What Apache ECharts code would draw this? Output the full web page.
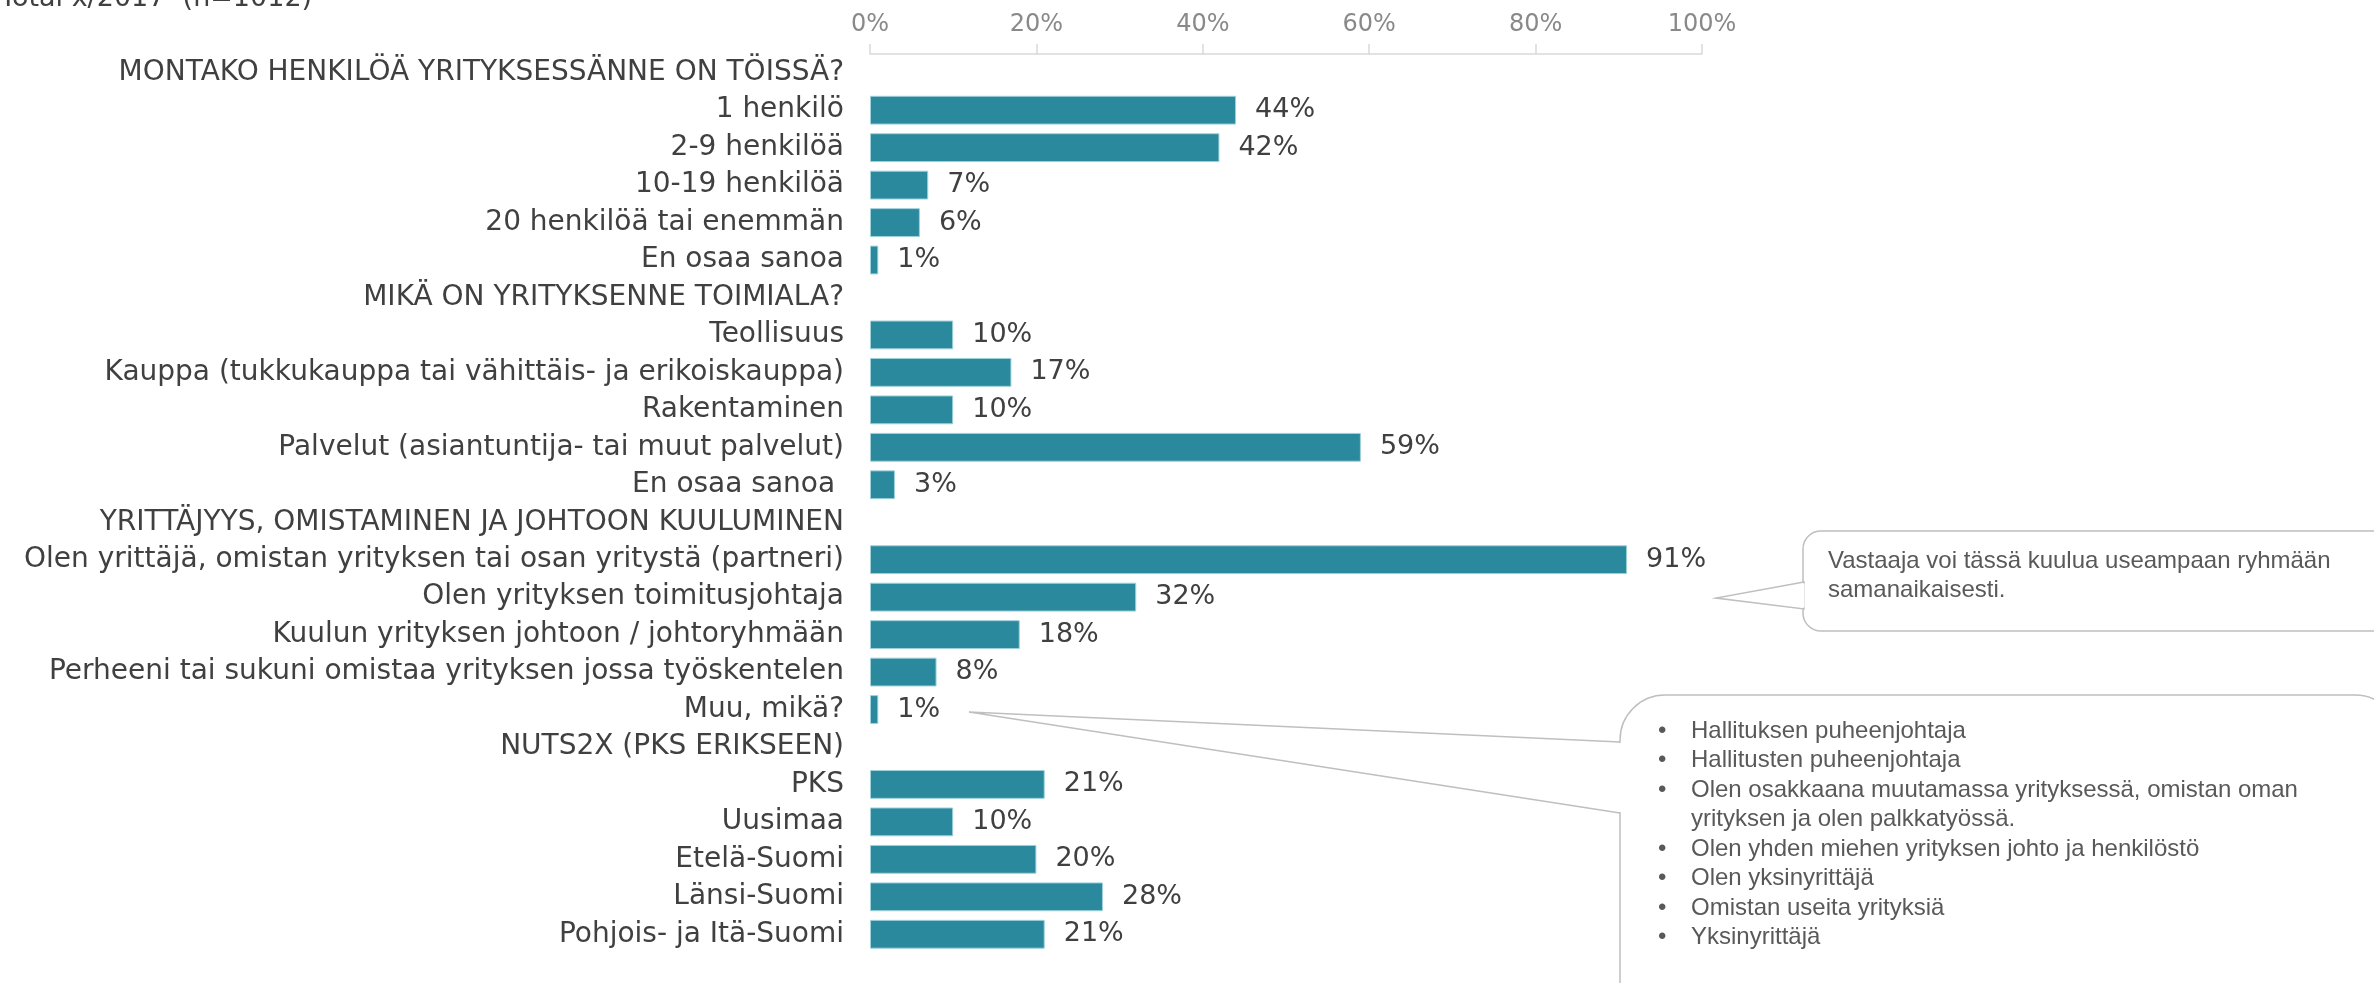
<!DOCTYPE html>
<html><head><meta charset="utf-8">
<script src="https://cdn.jsdelivr.net/npm/echarts@6/dist/echarts.min.js"></script>
<style>html,body{margin:0;padding:0;background:#fff}#c{width:2374px;height:983px}</style>
</head><body><div id="c"></div>
<script>
const categories = [
  'MONTAKO HENKILÖÄ YRITYKSESSÄNNE ON TÖISSÄ?',
  '1 henkilö','2-9 henkilöä','10-19 henkilöä','20 henkilöä tai enemmän','En osaa sanoa',
  'MIKÄ ON YRITYKSENNE TOIMIALA?',
  'Teollisuus','Kauppa (tukkukauppa tai vähittäis- ja erikoiskauppa)','Rakentaminen','Palvelut (asiantuntija- tai muut palvelut)','En osaa sanoa ',
  'YRITTÄJYYS, OMISTAMINEN JA JOHTOON KUULUMINEN',
  'Olen yrittäjä, omistan yrityksen tai osan yritystä (partneri)','Olen yrityksen toimitusjohtaja','Kuulun yrityksen johtoon / johtoryhmään','Perheeni tai sukuni omistaa yrityksen jossa työskentelen','Muu, mikä?',
  'NUTS2X (PKS ERIKSEEN)',
  'PKS','Uusimaa','Etelä-Suomi','Länsi-Suomi','Pohjois- ja Itä-Suomi'
];
const values = [
  null, 44, 42, 7, 6, 1,
  null, 10, 17, 10, 59, 3,
  null, 91, 32, 18, 8, 1,
  null, 21, 10, 20, 28, 21
];
const tickLabels = ['0%','20%','40%','60%','80%','100%'];
const noteText = ['Vastaaja voi tässä kuulua useampaan ryhmään', 'samanaikaisesti.'];
const otherAnswers = [
  ['Hallituksen puheenjohtaja'],
  ['Hallitusten puheenjohtaja'],
  ['Olen osakkaana muutamassa yrityksessä, omistan oman', 'yrityksen ja olen palkkatyössä.'],
  ['Olen yhden miehen yrityksen johto ja henkilöstö'],
  ['Olen yksinyrittäjä'],
  ['Omistan useita yrityksiä'],
  ['Yksinyrittäjä']
];
const titleText = 'Total x/2017  (n=1012)';

const chart = echarts.init(document.getElementById('c'), null, {renderer:'canvas'});
const F = 'DejaVu Sans';
const CF = 'Liberation Sans';

const g = [];
g.push({type:'text', left:0, top:-15, style:{text:titleText, font:'27px '+F, fill:'#404040'}});
// callout 1
g.push({type:'rect', shape:{x:1803, y:531, width:600, height:100, r:18}, style:{fill:'#fff', stroke:'#bfbfbf', lineWidth:1.5}, z:10});
g.push({type:'polygon', shape:{points:[[1804,582],[1716,598],[1804,609]]}, style:{fill:'#fff', stroke:'#bfbfbf', lineWidth:1.5}, z:11});
g.push({type:'line', shape:{x1:1803, y1:583.5, x2:1803, y2:607.5}, style:{stroke:'#fff', lineWidth:3}, z:12});
noteText.forEach((t,i)=>g.push({type:'text', x:1828, y:561+i*29, style:{text:t, font:'24px '+CF, fill:'#595959', textVerticalAlign:'middle'}, z:13}));
// callout 2
g.push({type:'rect', shape:{x:1620, y:695, width:780, height:360, r:45}, style:{fill:'#fff', stroke:'#bfbfbf', lineWidth:1.5}, z:10});
g.push({type:'line', shape:{x1:1620, y1:743, x2:1620, y2:812}, style:{stroke:'#fff', lineWidth:3}, z:12});
g.push({type:'polyline', shape:{points:[[1620,742],[969,712],[1620,813]]}, style:{fill:null, stroke:'#bfbfbf', lineWidth:1.5}, z:11});
let ly = 731;
otherAnswers.forEach(item=>{
  g.push({type:'text', x:1658, y:ly, style:{text:'•', font:'24px '+CF, fill:'#595959', textVerticalAlign:'middle'}, z:13});
  item.forEach((t)=>{
    g.push({type:'text', x:1691, y:ly, style:{text:t, font:'24px '+CF, fill:'#595959', textVerticalAlign:'middle'}, z:13});
    ly += 29.5;
  });
});

chart.setOption({
  animation:false,
  grid:{left:870, right:672, top:54, bottom:30},
  xAxis:{
    type:'value', position:'top', min:0, max:100, interval:20,
    axisLine:{show:true, lineStyle:{color:'#d9d9d9', width:1.5}},
    axisTick:{show:true, length:10, lineStyle:{color:'#d9d9d9', width:1.5}},
    splitLine:{show:false},
    axisLabel:{margin:17, color:'#898989', fontFamily:F, fontSize:24, formatter:(v)=>tickLabels[v/20]}
  },
  yAxis:{
    type:'category', inverse:true, data:categories,
    axisLine:{show:false}, axisTick:{show:false},
    axisLabel:{margin:26, color:'#404040', fontFamily:F, fontSize:28, interval:0}
  },
  series:[{
    type:'bar', data:values, barWidth:'77%',
    itemStyle:{color:'#2a899d', borderColor:'#9fd2dc', borderWidth:1},
    label:{show:true, position:'right', distance:19, color:'#404040', fontFamily:F, fontSize:27,
      formatter:(p)=>p.value==null?'':p.value+'%'}
  }],
  graphic:g
});
</script></body></html>
